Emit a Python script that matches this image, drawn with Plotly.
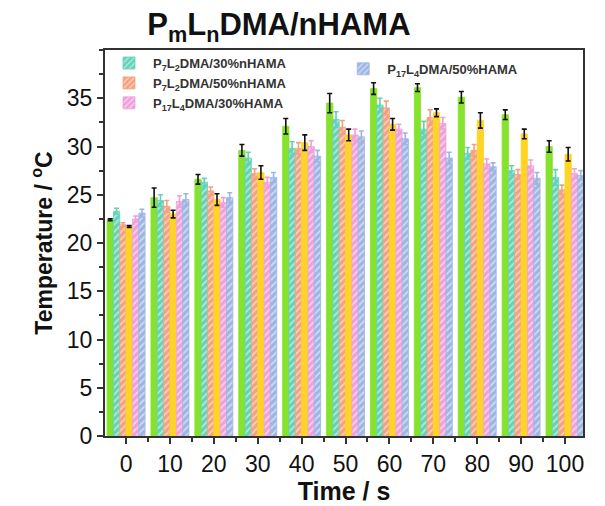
import plotly.graph_objects as go

time_s = [0, 10, 20, 30, 40, 50, 60, 70, 80, 90, 100]

green_vals = [22.4, 24.7, 26.6, 29.6, 32.1, 34.5, 36.0, 36.1, 35.1, 33.3, 30.0]
green_err = [0.1, 1.0, 0.5, 0.6, 0.8, 1.0, 0.6, 0.4, 0.6, 0.5, 0.6]

teal_vals = [23.3, 24.4, 26.3, 28.8, 29.8, 32.8, 34.3, 31.8, 29.3, 27.5, 26.8]
teal_err = [0.3, 0.6, 0.4, 0.6, 0.7, 0.8, 0.7, 0.8, 0.6, 0.5, 0.8]

orange_vals = [21.9, 23.8, 25.4, 27.2, 29.8, 32.0, 34.0, 33.0, 29.6, 27.1, 25.5]
orange_err = [0.2, 0.6, 0.4, 0.5, 0.6, 0.7, 0.7, 0.8, 0.6, 0.5, 0.5]

yellow_vals = [21.7, 23.0, 24.5, 27.3, 30.4, 31.2, 32.3, 33.5, 32.7, 31.3, 29.2]
yellow_err = [0.1, 0.4, 0.6, 0.7, 0.8, 0.6, 0.6, 0.4, 0.8, 0.5, 0.7]

pink_vals = [22.5, 24.3, 24.2, 26.3, 30.0, 31.2, 31.8, 32.4, 28.2, 28.0, 27.2]
pink_err = [0.3, 0.6, 0.5, 0.5, 0.6, 0.6, 0.5, 0.6, 0.5, 0.6, 0.5]

blue_vals = [23.1, 24.5, 24.7, 26.8, 29.0, 31.0, 30.8, 28.8, 27.9, 26.7, 27.0]
blue_err = [0.4, 0.6, 0.5, 0.5, 0.6, 0.6, 0.6, 0.6, 0.4, 0.6, 0.5]

FONT = "Liberation Sans, Arial, sans-serif"

series = [
    dict(name="green", vals=green_vals, err=green_err, color="#86E22C", hatch=False, errc="#111111", show=False, legend="legend"),
    dict(name="<b>P<sub>7</sub>L<sub>2</sub>DMA/30%nHAMA</b>", vals=teal_vals, err=teal_err, color="#63D2B6", hatch=True, errc="#63D2B6", show=True, legend="legend"),
    dict(name="<b>P<sub>7</sub>L<sub>2</sub>DMA/50%nHAMA</b>", vals=orange_vals, err=orange_err, color="#F5A080", hatch=True, errc="#F5A080", show=True, legend="legend"),
    dict(name="yellow", vals=yellow_vals, err=yellow_err, color="#FFD424", hatch=False, errc="#111111", show=False, legend="legend"),
    dict(name="<b>P<sub>17</sub>L<sub>4</sub>DMA/30%HAMA</b>", vals=pink_vals, err=pink_err, color="#EFA0DA", hatch=True, errc="#EFA0DA", show=True, legend="legend"),
    dict(name="<b>P<sub>17</sub>L<sub>4</sub>DMA/50%HAMA</b>", vals=blue_vals, err=blue_err, color="#9DB5E2", hatch=True, errc="#9DB5E2", show=True, legend="legend2"),
]

fig = go.Figure()
for s in series:
    marker = dict(color=s["color"], line=dict(color=s["color"], width=0.8))
    if s["hatch"]:
        marker["pattern"] = dict(shape="/", fgcolor="white", size=5, solidity=0.35)
    fig.add_trace(go.Bar(
        x=time_s, y=s["vals"], name=s["name"], marker=marker,
        showlegend=s["show"], legend=s["legend"],
        error_y=dict(type="data", array=s["err"], color=s["errc"], thickness=1.6, width=2.5),
    ))

fig.update_layout(
    width=605, height=506,
    margin=dict(l=105, r=22, t=50, b=66),
    paper_bgcolor="white", plot_bgcolor="white",
    barmode="group", bargap=0.134, bargroupgap=0,
    font=dict(family=FONT, color="#111111"),
    title=dict(text="<b>P<sub>m</sub>L<sub>n</sub>DMA/nHAMA</b>", x=0.461, xanchor="center",
               y=0.952, yanchor="middle", font=dict(size=31, family=FONT, color="#111111")),
    xaxis=dict(range=[-4.8, 104.1], tickvals=time_s, ticktext=[str(t) for t in time_s],
               ticks="outside", ticklen=6, tickwidth=1.5, tickcolor="#333",
               minor=dict(tickvals=[5, 15, 25, 35, 45, 55, 65, 75, 85, 95], ticks="outside", ticklen=4, tickcolor="#333"),
               showline=True, linecolor="#333", linewidth=2, mirror=True, showgrid=False, zeroline=False,
               tickfont=dict(size=23, family=FONT, color="#111"),
               title=dict(text="<b>Time / s</b>", font=dict(size=25, family=FONT, color="#111"), standoff=0)),
    yaxis=dict(range=[0, 40], tickvals=[0, 5, 10, 15, 20, 25, 30, 35],
               ticks="outside", ticklen=6, tickwidth=1.5, tickcolor="#333",
               minor=dict(dtick=2.5, ticks="outside", ticklen=4, tickcolor="#333"),
               showline=True, linecolor="#333", linewidth=2, mirror=True, showgrid=False, zeroline=False,
               tickfont=dict(size=23, family=FONT, color="#111"),
               title=dict(text="<b>Temperature / <sup>o</sup>C</b>", font=dict(size=23, family=FONT, color="#111"), standoff=8)),
    legend=dict(x=0.0, y=1.005, xanchor="left", yanchor="top", bgcolor="rgba(255,255,255,0)",
                font=dict(size=13, family=FONT, color="#333"), tracegroupgap=0, itemwidth=38,
                traceorder="normal"),
    legend2=dict(x=0.49, y=0.99, xanchor="left", yanchor="top", bgcolor="rgba(255,255,255,0)",
                 font=dict(size=13, family=FONT, color="#333"), itemwidth=38),
)

fig.write_html("out.html")
